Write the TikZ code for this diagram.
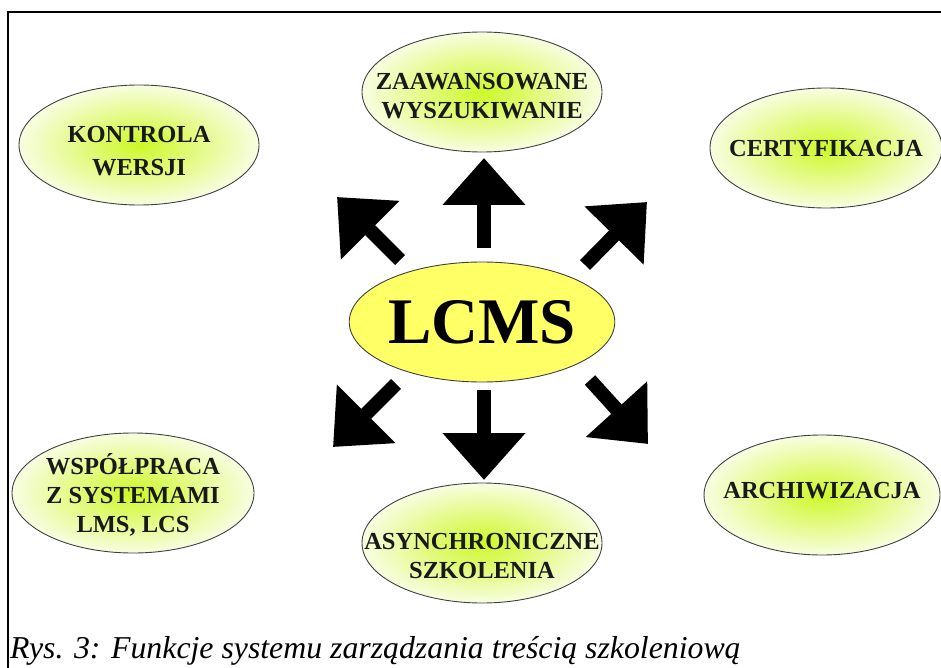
\documentclass[tikz,border=0pt]{standalone}
\usepackage{fontspec}
\setmainfont{Liberation Serif}
\usetikzlibrary{shapes.geometric,arrows.meta}

\definecolor{bubblegreen}{RGB}{206,248,40}
\definecolor{bubbleedge}{RGB}{248,253,225}
\definecolor{lcmsyellow}{RGB}{255,255,102}

\tikzset{
  bubble/.style={ellipse, draw=black!75, line width=0.9pt, minimum width=240pt,
    minimum height=120pt, inner sep=0pt, inner color=bubblegreen, outer color=bubbleedge},
  bubbletext/.style={font=\fontsize{24.5}{29}\selectfont\bfseries, align=center, text=black!90},
  bigarrow/.style={line width=14pt, -{Triangle[width=80pt,length=47pt]}},
}

\begin{document}
\begin{tikzpicture}[x=1pt,y=-1pt]
        \useasboundingbox (0,0) rectangle (941,668);

        % ramka
        \draw[line width=1.4pt] (941,12) -- (8,12) -- (8,668);

        % funkcje
        \node[bubble, label={[bubbletext,yshift=-6pt]center:{KONTROLA\\[4pt]WERSJI}}] (kontrola) at (139,145) {};
        \node[bubble, label={[bubbletext,yshift=-4pt]center:{ZAAWANSOWANE\\WYSZUKIWANIE}}] (wyszuk) at (482,92) {};
        \node[bubble, minimum width=232pt, label={[bubbletext,yshift=-1pt]center:CERTYFIKACJA}] (certyf) at (826,148) {};
        \node[bubble, minimum width=242pt, label={[bubbletext,yshift=-2pt]center:{WSPÓŁPRACA\\Z SYSTEMAMI\\LMS, LCS}}] (wspol) at (133,493) {};
        \node[bubble, label={[bubbletext,yshift=-13pt]center:{ASYNCHRONICZNE\\SZKOLENIA}}] (asynch) at (482,543) {};
        \node[bubble, minimum width=236pt, label={[bubbletext,yshift=4pt]center:ARCHIWIZACJA}] (archiw) at (822,495) {};

        % srodek
        \node[ellipse, draw=black!75, line width=0.9pt, fill=lcmsyellow, minimum width=240pt,
              minimum height=120pt, inner sep=0pt, font=\fontsize{65}{70}\selectfont\bfseries] (lcms) at (482,322) {LCMS};

        % strzalki
        \coordinate (up0) at (484,248);  \coordinate (up1) at (484,158);
        \coordinate (dn0) at (484,390);  \coordinate (dn1) at (484,480);
        \coordinate (ul0) at (400,260);  \coordinate (ul1) at (337,197);
        \coordinate (ur0) at (585,265);  \coordinate (ur1) at (647,202);
        \coordinate (ll0) at (396,384);  \coordinate (ll1) at (333,447);
        \coordinate (lr0) at (590,380);  \coordinate (lr1) at (648,444);

        \foreach \a in {up,dn,ul,ur,ll,lr}
            \draw[bigarrow] (\a0) -- (\a1);

        % podpis
        \node[anchor=base west, inner sep=0pt, font=\fontsize{31.8}{34}\selectfont\itshape] (podpis) at (10,658)
            {Rys. 3: Funkcje systemu zarządzania treścią szkoleniową};
\end{tikzpicture}
\end{document}
